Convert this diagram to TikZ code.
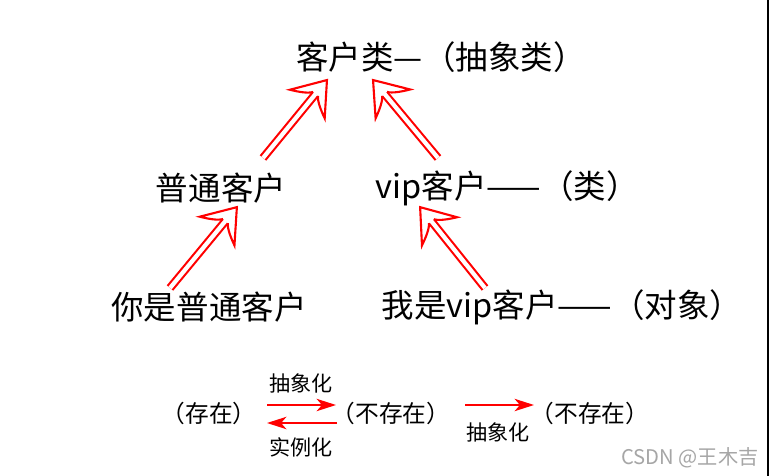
\documentclass[tikz,border=0pt]{standalone}
\usepackage{fontspec}
\setmainfont{Noto Sans CJK SC}
\usepackage{tikz}
\usepackage{xcolor}
\usetikzlibrary{arrows.meta,decorations.markings}

\tikzset{
  bigtext/.style={font=\fontsize{18.5}{20}\selectfont, inner sep=0pt},
  smalltext/.style={font=\fontsize{13.5}{15}\selectfont, inner sep=0pt},
  labeltext/.style={font=\fontsize{12}{14}\selectfont, inner sep=0pt},
  flatarrow/.style={red, line width=1.2pt, -{Stealth[length=11pt,width=7pt,inset=3pt]}},
  bigarrow/.style={preaction={draw=red, line width=1.2pt, double=white, double distance=2.4pt, shorten >=0.36cm},
    postaction={decorate, decoration={markings, mark=at position 1 with {\filldraw[draw=red, fill=white, line width=1.2pt, line join=miter] (-0.36cm,0.063cm) .. controls (-0.45cm,0.12cm) and (-0.55cm,0.3cm) .. (-0.62cm,0.45cm) -- (0cm,0cm) -- (-0.62cm,-0.45cm) .. controls (-0.55cm,-0.3cm) and (-0.45cm,-0.12cm) .. (-0.36cm,-0.063cm);}}}}
}

\begin{document}
\begin{tikzpicture}[x=0.02cm, y=-0.02cm]
                \fill[white] (0,0) rectangle (770,476);
                \useasboundingbox (0,0) rectangle (770,476);
                \draw[black, line width=1pt] (768,0) -- (768,476);
                \node[bigtext] (kehu) at (441,57) {客户类—（抽象类）};
                \node[bigtext] (putong) at (221,188) {普通客户};
                \node[bigtext] (vip) at (507,188) {vip客户——（类）};
                \node[bigtext] (ni) at (209,307) {你是普通客户};
                \node[bigtext] (wo) at (562,307) {我是vip客户——（对象）};
                \node[smalltext] (cunzai) at (209,413) {（存在）};
                \node[smalltext] (bucun1) at (391,413) {（不存在）};
                \node[smalltext] (bucun2) at (590,413) {（不存在）};
                \node[labeltext] (chou1) at (301,383) {抽象化};
                \node[labeltext] (shili) at (301,447) {实例化};
                \node[labeltext] (chou2) at (498,432) {抽象化};
                \node[font=\fontsize{11.5}{13}\selectfont, text=gray!70, inner sep=0pt] (csdn) at (690,458) {CSDN @王木吉};
                \coordinate (p1s) at (263,158); \coordinate (p1e) at (327,80);
                \coordinate (p2s) at (438,158); \coordinate (p2e) at (373,80);
                \coordinate (p3s) at (170,288); \coordinate (p3e) at (237,207);
                \coordinate (p4s) at (485,288); \coordinate (p4e) at (420,207);
                \path[bigarrow] (p1s) -- (p1e);
                \path[bigarrow] (p2s) -- (p2e);
                \path[bigarrow] (p3s) -- (p3e);
                \path[bigarrow] (p4s) -- (p4e);
                \coordinate (h1s) at (267,405); \coordinate (h1e) at (336,405);
                \coordinate (h2s) at (337,423); \coordinate (h2e) at (267,423);
                \coordinate (h3s) at (465,405); \coordinate (h3e) at (534,405);
                \draw[flatarrow] (h1s) -- (h1e);
                \draw[flatarrow] (h2s) -- (h2e);
                \draw[flatarrow] (h3s) -- (h3e);
            \end{tikzpicture}
\end{document}
